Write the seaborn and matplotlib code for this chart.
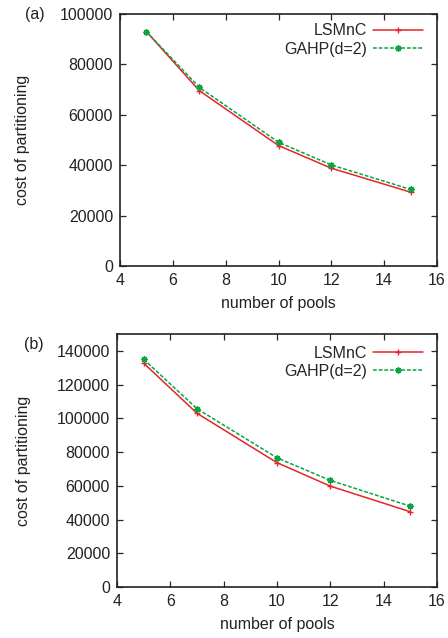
import matplotlib
matplotlib.use("Agg")
import matplotlib.pyplot as plt
import seaborn as sns
import pandas as pd

sns.set_theme(style="ticks")
plt.rcParams['font.family'] = ['Liberation Sans', 'DejaVu Sans']

pools = [5, 7, 10, 12, 15]
a_lsmnc = [93000, 69600, 47800, 38800, 29300]
a_gahp = [93000, 70900, 49100, 40100, 30400]
b_lsmnc = [132700, 103000, 73700, 59800, 44600]
b_gahp = [135000, 105700, 76600, 63200, 47900]

series_names = ["LSMnC", "GAHP(d=2)"]
xticks = [4, 6, 8, 10, 12, 14, 16]
a_yticks = [0, 20000, 40000, 60000, 80000, 100000]
b_yticks = [0, 20000, 40000, 60000, 80000, 100000, 120000, 140000]

red = "#e8232a"
green = "#0aa443"

fig = plt.figure(figsize=(4.48, 6.38), dpi=100)
ax_a = fig.add_axes([120/448, 1-266/638, (437-120)/448, (266-14)/638])
ax_b = fig.add_axes([117/448, 1-587/638, (437-117)/448, (587-334)/638])

fs = 11.5

def draw(ax, lsm, gahp, yticks, ylim, label, leg_y):
    df = pd.DataFrame({
        "pools": pools * 2,
        "cost": lsm + gahp,
        "method": [series_names[0]] * len(pools) + [series_names[1]] * len(pools),
    })
    sns.lineplot(data=df[df.method == series_names[0]], x="pools", y="cost", ax=ax,
                 color=red, marker="+", markersize=4.5, markeredgewidth=1.0,
                 markeredgecolor=red, markerfacecolor=red,
                 linewidth=1.1, label=series_names[0])
    sns.lineplot(data=df[df.method == series_names[1]], x="pools", y="cost", ax=ax,
                 color=green, marker=(8, 2, 0), markersize=4.5, markeredgewidth=1.0,
                 markeredgecolor=green, markerfacecolor=green,
                 linewidth=1.1, linestyle=(0, (2.5, 1.2)), label=series_names[1])
    ax.set_xlim(4, 16)
    ax.set_ylim(*ylim)
    ax.set_xticks(xticks)
    ax.set_yticks(yticks)
    ax.set_xticklabels([str(t) for t in xticks], fontsize=fs, color="#222222")
    ax.set_yticklabels([str(t) for t in yticks], fontsize=fs, color="#222222")
    ax.tick_params(direction="in", top=True, right=True, length=4, width=0.9, pad=5)
    for s in ax.spines.values():
        s.set_linewidth(1.2)
        s.set_color("#222222")
    ax.set_xlabel("number of pools", fontsize=fs, color="#222222", labelpad=6)
    ax.set_ylabel("cost of partitioning", fontsize=fs, color="#222222", labelpad=8)
    ax.legend(loc="upper right", frameon=False, markerfirst=False, fontsize=fs,
              handlelength=3.1, borderaxespad=0.5, labelspacing=0.2,
              handletextpad=0.4, bbox_to_anchor=(1.0, leg_y))
    ax.text(-0.3, 1.0, label, transform=ax.transAxes, fontsize=fs,
            color="#222222", ha="left", va="center")

draw(ax_a, a_lsmnc, a_gahp, a_yticks, (0, 100000), "(a)", 1.02)
draw(ax_b, b_lsmnc, b_gahp, b_yticks, (0, 150000), "(b)", 1.01)
ax_b.texts[0].set_position((-0.29, 0.96))
ax_a.yaxis.set_label_coords(-0.285, 0.5)
ax_b.yaxis.set_label_coords(-0.27, 0.5)

fig.savefig("out.png", dpi=100)
